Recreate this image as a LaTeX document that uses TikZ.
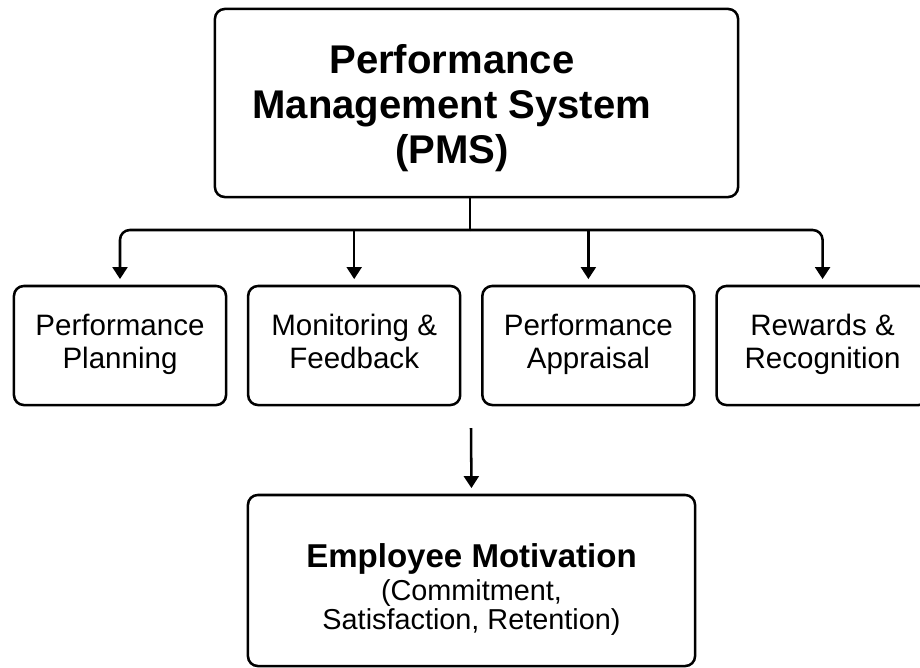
\documentclass[tikz,border=0pt]{standalone}
\usepackage{fontspec}
\setmainfont{Liberation Sans}
\usetikzlibrary{arrows.meta,positioning}

\begin{document}
\begin{tikzpicture}[x=0.025cm,y=-0.025cm,
  boite/.style={draw,line width=1.8pt,rounded corners=7pt,align=center,inner sep=0pt},
  petite/.style={boite,minimum width=5.3cm,minimum height=2.975cm,font=\fontsize{21}{23}\selectfont},
  fleche/.style={line width=1.8pt,-{Triangle[length=8.5pt,width=10.5pt]},shorten >=4pt}]

\useasboundingbox (0,0) rectangle (920,667) ;
\fill[white] (0,0) rectangle (920,667) ;

% boîte du haut

\node[boite,minimum width=13.075cm,minimum height=4.7cm,
      font=\fontsize{28.5}{32}\selectfont\bfseries] (pms) at (476.5,103)
  {\begin{tabular}{@{}c@{\hspace{35pt}}}\rule{0pt}{32pt}Performance\\Management System\\(PMS)\end{tabular}} ;

% les quatre étapes

\node[petite] (planif) at (120,345.5) {\strut Performance\\\strut Planning} ;
\node[petite,right=0.49cm of planif] (suivi) {\strut Monitoring \&\\\strut Feedback} ;
\node[petite,right=0.49cm of suivi] (evaluation) {\strut Performance\\\strut Appraisal} ;
\node[petite,right=0.49cm of evaluation] (recompenses) {\strut Rewards \&\\\strut Recognition} ;

% boîte du bas

\node[boite,minimum width=11.175cm,minimum height=4.275cm,
      font=\fontsize{20.5}{21.3}\selectfont] (motivation) at (471.5,580.5)
  {\rule{0pt}{30pt}{\fontsize{23.5}{28}\selectfont\bfseries Employee Motivation}\\[2pt]
   (Commitment,\\Satisfaction, Retention)} ;

% traits et flèches

\coordinate (noeud) at (470,230) ;
\coordinate (haut) at (471,428) ;

\draw[line width=1.8pt] (noeud |- pms.south) -- (noeud) ;
\draw[fleche,rounded corners=7pt] (noeud) -| (planif.north) ;
\draw[fleche,rounded corners=7pt] (noeud) -| (recompenses.north) ;
\draw[fleche] (suivi.north |- noeud) -- (suivi.north) ;
\draw[fleche] (evaluation.north |- noeud) -- (evaluation.north) ;
\draw[fleche] (haut) -- (motivation.north) ;

\end{tikzpicture}
\end{document}
